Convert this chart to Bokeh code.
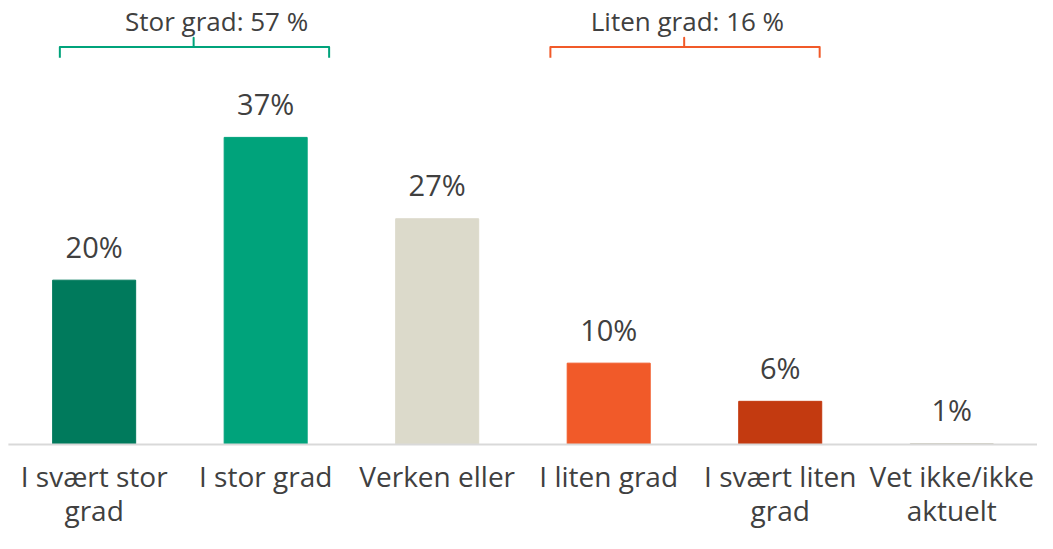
from bokeh.plotting import figure
from bokeh.models import Range1d, ColumnDataSource
from bokeh.core.properties import value
from bokeh.embed import file_html
from bokeh.resources import INLINE

# ---- data ----
categories = ["I svært stor\ngrad", "I stor grad", "Verken eller", "I liten grad",
              "I svært liten\ngrad", "Vet ikke/ikke\naktuelt"]
values = [19.8, 37.0, 27.2, 9.8, 5.2, 0.1]
value_labels = ["20%", "37%", "27%", "10%", "6%", "1%"]
bar_colors = ["#007A5C", "#00A37B", "#DCDACB", "#F15A29", "#C33A10", "#C9C6B7"]

group_labels = ["Stor grad: 57 %", "Liten grad: 16 %"]
group_members = [[0, 1], [3, 4]]
group_colors = ["#00A37B", "#F15A29"]

# ---- style / layout ----
FONT = "Open Sans"
TXT = "#404040"
W, H = 1037, 533
PX_PER_UNIT = 8.3
BASE_PX = 444            # pixels from top of figure to the baseline
X_START, X_END = -0.546, 5.5
bracket_left_off = [-0.20, -0.34]
bracket_right_off = [0.37, 0.23]
bracket_center = [0.58, 3.44]
label_x = [0.714, 3.459]
Y_H, Y_END, Y_TOP, Y_TXT = 47.9, 46.6, 49.0, 51.0

y_top = BASE_PX / PX_PER_UNIT
y_bot = -(H - BASE_PX) / PX_PER_UNIT

p = figure(width=W, height=H, output_backend="svg", toolbar_location=None,
           x_range=Range1d(X_START, X_END), y_range=Range1d(y_bot, y_top),
           min_border_left=0, min_border_right=0, min_border_top=0, min_border_bottom=0,
           x_axis_location=None, y_axis_location=None)
p.outline_line_color = None
p.xgrid.visible = False
p.ygrid.visible = False
p.background_fill_color = "white"
p.border_fill_color = "white"

xs = list(range(len(categories)))
src = ColumnDataSource(dict(x=xs, top=values, color=bar_colors, lab=value_labels,
                            cat=categories, zero=[0] * len(xs)))
p.vbar(x="x", top="top", bottom=0, width=0.484, color="color", source=src)

# baseline (category axis line)
p.segment(x0=[-0.5], y0=[0], x1=[X_END], y1=[0], line_color="#D9D9D9", line_width=2)

# value labels
p.text(x="x", y="top", text="lab", source=src, text_align="center",
       text_baseline="alphabetic", y_offset=-34, text_font=value(FONT),
       text_font_size="29px", text_color=TXT)

# category labels
p.text(x="x", y="zero", text="cat", source=src, text_align="center",
       text_baseline="top", y_offset=12, text_font=value(FONT),
       text_font_size="28px", text_color=TXT, text_line_height=0.9)

# brackets
for i, members in enumerate(group_members):
    l = members[0] + bracket_left_off[i]
    r = members[-1] + bracket_right_off[i]
    c = bracket_center[i]
    bx = [l, l, c, c, c, r, r]
    by = [Y_END, Y_H, Y_H, Y_TOP, Y_H, Y_H, Y_END]
    p.line(bx, by, line_color=group_colors[i], line_width=2, line_join="round")
    p.text(x=[label_x[i]], y=[Y_TXT], text=[group_labels[i]], text_align="center",
           text_baseline="middle", text_font=value(FONT), text_font_size="26px",
           text_color=TXT)

open("out.html", "w").write(file_html(p, INLINE))
